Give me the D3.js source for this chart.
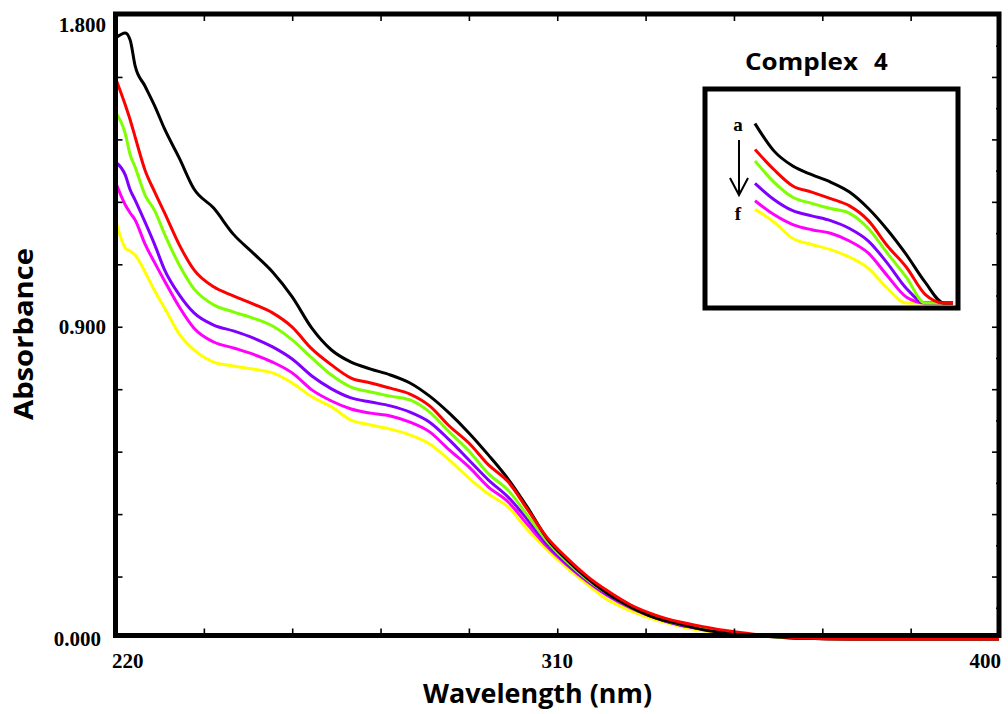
<!DOCTYPE html>
<html>
<head>
<meta charset="utf-8">
<script src="https://cdn.jsdelivr.net/npm/d3@7"></script>
<style>
  html, body { margin: 0; padding: 0; background: #ffffff; }
  svg { display: block; }
</style>
</head>
<body>
<svg id="chart" width="1008" height="714"></svg>
<script>
// ---------------- data ----------------
const wavelengths = [220,222,223,224,226,228,230,233,236,240,244,248,252,256,260,264,268,272,276,280,284,288,292,296,300,304,308,312,316,320,325,330,335,340,345,350,355,360,370,380,390,400];

const absA = [1.732,1.747,1.726,1.652,1.594,1.536,1.470,1.386,1.297,1.242,1.167,1.113,1.058,0.986,0.896,0.833,0.798,0.778,0.761,0.738,0.700,0.651,0.594,0.530,0.461,0.378,0.288,0.228,0.176,0.133,0.092,0.061,0.043,0.026,0.017,0.012,0.006,0.002,0,0,0,0];
const absB = [1.617,1.539,1.496,1.447,1.352,1.288,1.228,1.136,1.064,1.015,0.989,0.966,0.940,0.899,0.836,0.790,0.752,0.738,0.723,0.706,0.672,0.614,0.565,0.502,0.453,0.372,0.291,0.233,0.182,0.141,0.098,0.069,0.049,0.035,0.023,0.014,0.007,0.003,0,0,0,0];
const absC = [1.519,1.456,1.395,1.360,1.280,1.234,1.167,1.078,1.009,0.963,0.943,0.925,0.902,0.862,0.810,0.761,0.726,0.712,0.700,0.689,0.654,0.597,0.542,0.476,0.429,0.355,0.280,0.222,0.173,0.133,0.092,0.063,0.043,0.029,0.020,0.012,0.005,0.002,0,0,0,0];
const absD = [1.375,1.337,1.294,1.265,1.202,1.136,1.064,0.992,0.940,0.905,0.888,0.868,0.842,0.807,0.758,0.721,0.695,0.683,0.672,0.654,0.625,0.574,0.516,0.458,0.409,0.343,0.271,0.216,0.170,0.130,0.092,0.061,0.040,0.029,0.019,0.012,0.005,0.002,0,0,0,0];
const absE = [1.317,1.251,1.228,1.208,1.139,1.084,1.032,0.957,0.896,0.856,0.839,0.821,0.798,0.767,0.718,0.686,0.663,0.651,0.643,0.625,0.597,0.545,0.496,0.438,0.395,0.329,0.265,0.213,0.167,0.127,0.089,0.061,0.040,0.027,0.017,0.012,0.005,0.002,0,0,0,0];
const absF = [1.208,1.127,1.118,1.107,1.058,1.003,0.954,0.879,0.833,0.798,0.787,0.778,0.767,0.738,0.698,0.669,0.631,0.617,0.605,0.588,0.562,0.516,0.464,0.418,0.380,0.314,0.257,0.205,0.159,0.115,0.081,0.055,0.037,0.023,0.016,0.012,0.005,0.002,0,0,0,0];

const seriesNames  = ["a","b","c","d","e","f"];
const seriesColors = ["#000000","#ff0000","#7fff00","#8000ff","#ff00ff","#ffff00"];
const seriesValues = [absA, absB, absC, absD, absE, absF];

const xTickLabels = [220, 310, 400];
const yTickLabels = [0, 0.9, 1.8];
const xTickStep = 18;
const yTickStep = 0.18;
const insetTitleWords = ["Complex", "4"];
const xTitle = "Wavelength (nm)";
const yTitle = "Absorbance";
const insetRange = [260, 304];
const insetAbsDomain = [0.482, 0.970];

// ---------------- layout ----------------
const svg = d3.select("#chart");
const frame = {left: 115.5, right: 999, top: 14, bottom: 635.5};
const x = d3.scaleLinear().domain([220, 400]).range([frame.left, frame.right]);
const y = d3.scaleLinear().domain([0, 1.8]).range([639, 14.5]);

const series = seriesNames.map((n, i) => ({
  name: n, color: seriesColors[i],
  points: wavelengths.map((w, j) => ({w, v: seriesValues[i][j]}))
}));
// draw order: f first, then e..c, a, and b on top
const drawOrder = [5, 4, 3, 2, 0, 1];

svg.append("rect").attr("width", 1008).attr("height", 714).attr("fill", "#ffffff");

const line = d3.line().x(d => x(d.w)).y(d => y(d.v)).curve(d3.curveMonotoneX);

const gLines = svg.append("g");
drawOrder.forEach(i => {
  gLines.append("path")
    .datum(series[i].points)
    .attr("d", line)
    .attr("fill", "none")
    .attr("stroke", series[i].color)
    .attr("stroke-width", 3)
    .attr("stroke-linejoin", "round");
});

// ---------------- axes (inward ticks on all four sides) ----------------
const xTicks = d3.range(220 + xTickStep, 400 - 0.001, xTickStep);
const yTicks = d3.range(yTickStep, 1.8 - 0.001, yTickStep);
const yMinor = d3.range(yTickStep / 2, 1.8, yTickStep);

const axBottom = d3.axisBottom(x).tickValues(xTicks).tickSize(-7).tickFormat("");
const axTop = d3.axisTop(x).tickValues(xTicks).tickSize(-7).tickFormat("");
const axLeft = d3.axisLeft(y).tickValues(yTicks).tickSize(-7).tickFormat("");
const axRight = d3.axisRight(y).tickValues(yTicks).tickSize(-7).tickFormat("");
const axRightMinor = d3.axisRight(y).tickValues(yMinor).tickSize(-3).tickFormat("");

function styleAxis(g) {
  g.select(".domain").remove();
  g.selectAll("line").attr("stroke", "#000").attr("stroke-width", 1.6);
}
svg.append("g").attr("transform", `translate(0,${frame.bottom})`).call(axBottom).call(styleAxis);
svg.append("g").attr("transform", `translate(0,${frame.top})`).call(axTop).call(styleAxis);
svg.append("g").attr("transform", `translate(${frame.left},0)`).call(axLeft).call(styleAxis);
svg.append("g").attr("transform", `translate(${frame.right},0)`).call(axRight).call(styleAxis);
svg.append("g").attr("transform", `translate(${frame.right},0)`).call(axRightMinor).call(styleAxis);

svg.append("rect")
  .attr("x", frame.left).attr("y", frame.top)
  .attr("width", frame.right - frame.left).attr("height", frame.bottom - frame.top)
  .attr("fill", "none").attr("stroke", "#000").attr("stroke-width", 5);

// tick labels
const serif = "'Liberation Serif', 'Times New Roman', serif";
const sans = "'Open Sans', 'Liberation Sans', sans-serif";
const fmtY = d3.format(".3f");
svg.append("g").selectAll("text").data(yTickLabels).join("text")
  .attr("x", d => d === 0 ? 101 : 106)
  .attr("y", d => Math.max(y(d), 25))
  .attr("text-anchor", "end")
  .attr("dominant-baseline", "central")
  .attr("font-family", serif).attr("font-weight", "bold").attr("font-size", 21)
  .text(d => fmtY(d));

svg.append("g").selectAll("text").data(xTickLabels).join("text")
  .attr("x", (d, i) => i === 0 ? 112 : (i === xTickLabels.length - 1 ? 1001 : x(d)))
  .attr("y", 661)
  .attr("text-anchor", (d, i) => i === 0 ? "start" : (i === xTickLabels.length - 1 ? "end" : "middle"))
  .attr("dominant-baseline", "central")
  .attr("font-family", serif).attr("font-weight", "bold").attr("font-size", 21)
  .text(d => d);

// axis titles
svg.append("text")
  .attr("x", 537.5).attr("y", 703)
  .attr("text-anchor", "middle")
  .attr("font-family", sans).attr("font-weight", "bold").attr("font-size", 27)
  .attr("textLength", 229).attr("lengthAdjust", "spacingAndGlyphs")
  .text(xTitle);

svg.append("text")
  .attr("transform", "translate(33,334) rotate(-90)")
  .attr("text-anchor", "middle")
  .attr("font-family", sans).attr("font-weight", "bold").attr("font-size", 27)
  .attr("textLength", 172).attr("lengthAdjust", "spacingAndGlyphs")
  .text(yTitle);

// ---------------- inset ----------------
const inset = {left: 705, right: 958, top: 89, bottom: 308};
svg.append("rect")
  .attr("x", inset.left).attr("y", inset.top)
  .attr("width", inset.right - inset.left).attr("height", inset.bottom - inset.top)
  .attr("fill", "#ffffff");

const xi = d3.scaleLinear().domain([260, 300]).range([755, 944]);
const yi = d3.scaleLinear().domain(insetAbsDomain).range([303, 91.5]).clamp(true);

svg.append("defs").append("clipPath").attr("id", "insetClip")
  .append("rect").attr("x", 752).attr("y", inset.top + 2)
  .attr("width", 953 - 752).attr("height", inset.bottom - inset.top - 3);

const lineInset = d3.line().x(d => xi(d.w)).y(d => yi(d.v)).curve(d3.curveMonotoneX);
const gInset = svg.append("g").attr("clip-path", "url(#insetClip)");
drawOrder.forEach(i => {
  gInset.append("path")
    .datum(series[i].points.filter(p => p.w >= insetRange[0] && p.w <= insetRange[1]))
    .attr("d", lineInset)
    .attr("fill", "none")
    .attr("stroke", series[i].color)
    .attr("stroke-width", 3)
    .attr("stroke-linejoin", "round");
});

svg.append("rect")
  .attr("x", inset.left).attr("y", inset.top)
  .attr("width", inset.right - inset.left).attr("height", inset.bottom - inset.top)
  .attr("fill", "none").attr("stroke", "#000").attr("stroke-width", 5);

// inset title: "Complex" + wide gap + "4"
const titleG = svg.append("text")
  .attr("y", 70)
  .attr("font-family", sans).attr("font-weight", "bold").attr("font-size", 24);
titleG.append("tspan").attr("x", 745)
  .attr("textLength", 113).attr("lengthAdjust", "spacingAndGlyphs")
  .text(insetTitleWords[0]);
titleG.append("tspan").attr("x", 874).text(insetTitleWords[1]);

// a -> f labels and arrow
svg.append("text")
  .attr("x", 738).attr("y", 124)
  .attr("text-anchor", "middle").attr("dominant-baseline", "central")
  .attr("font-family", serif).attr("font-weight", "bold").attr("font-size", 19)
  .text(seriesNames[0]);
svg.append("text")
  .attr("x", 738).attr("y", 213)
  .attr("text-anchor", "middle").attr("dominant-baseline", "central")
  .attr("font-family", serif).attr("font-weight", "bold").attr("font-size", 19)
  .text(seriesNames[seriesNames.length - 1]);
svg.append("line")
  .attr("x1", 739).attr("y1", 140).attr("x2", 739).attr("y2", 195)
  .attr("stroke", "#000").attr("stroke-width", 2);
svg.append("polyline")
  .attr("points", "730,178 739,195 748,178")
  .attr("fill", "none").attr("stroke", "#000").attr("stroke-width", 2);
</script>
</body>
</html>
